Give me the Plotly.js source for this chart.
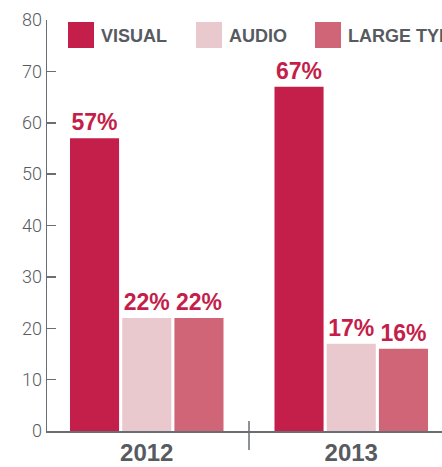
<!DOCTYPE html>
<html>
<head>
<meta charset="utf-8">
<script src="https://cdn.plot.ly/plotly-3.0.1.min.js"></script>
<style>
  html, body { margin: 0; padding: 0; background: #fff; }
  #chart { width: 442px; height: 467px; }
</style>
</head>
<body>
<div id="chart"></div>
<script>
const years = ['2012', '2013'];
const seriesNames = ['VISUAL', 'AUDIO', 'LARGE TYPE'];
const visual = [57, 67];
const audio = [22, 17];
const largeType = [22, 16];
const colors = ['#c41e4a', '#e9c9ce', '#cf6576'];

const W = 442, H = 467;
const ms = { l: 47, r: 0, t: 20, b: 36 }; // margins
const plotW = W - ms.l - ms.r;
const plotH = H - ms.t - ms.b;
const catW = 204.5; // px per category, right side is cut off
const xStart = -0.5 + 2.5 / catW; // nudge bars left a bit

const boldFont = '"Liberation Sans", Arial, sans-serif';
const gray = '#575b5f';

// pixel -> paper helpers
function px(x) { return (x - ms.l) / plotW; }
function py(y) { return (H - ms.b - y) / plotH; }

const values = [visual, audio, largeType];
let traces = values.map((v, i) => ({
    type: 'bar',
    name: seriesNames[i],
    x: years,
    y: v,
    marker: { color: colors[i] },
    texttemplate: '%{y}%',
    textposition: 'outside',
    constraintext: 'none',
    cliponaxis: false,
    textfont: { family: boldFont, size: 23, color: '#c41e4a', weight: 'bold' },
    hoverinfo: 'none'
}));

// hand made legend: big squares + labels
const legendBoxX = [68, 196, 315];
let shapes = [];
let annotations = [];
seriesNames.forEach((name, i) => {
    shapes.push({
        type: 'rect', xref: 'paper', yref: 'paper',
        x0: px(legendBoxX[i]), x1: px(legendBoxX[i] + 26),
        y0: py(48), y1: py(22),
        fillcolor: colors[i], line: { width: 0 }
    });
    annotations.push({
        xref: 'paper', yref: 'paper',
        x: px(legendBoxX[i] + 31), y: py(36),
        xanchor: 'left', yanchor: 'middle',
        text: name, showarrow: false,
        font: { family: boldFont, size: 18, color: gray, weight: 'bold' }
    });
});

// divider between the two years
shapes.push({
    type: 'line', xref: 'x', yref: 'paper',
    x0: 0.5, x1: 0.5, y0: py(450), y1: py(421),
    line: { color: '#6a6e72', width: 1.5 }
});

const layout = {
    width: W,
    height: H,
    margin: ms,
    paper_bgcolor: '#fff',
    plot_bgcolor: '#fff',
    showlegend: false,
    barmode: 'group',
    bargap: 0.234,
    bargroupgap: 0.06,
    xaxis: {
        type: 'category',
        range: [xStart, xStart + plotW / catW],
        showline: true,
        linecolor: '#6a6e72',
        linewidth: 1.5,
        ticks: '',
        showgrid: false,
        zeroline: false,
        tickfont: { family: boldFont, size: 24, color: gray, weight: 'bold' },
        fixedrange: true
    },
    yaxis: {
        range: [0, 80],
        dtick: 10,
        showline: true,
        linecolor: '#6a6e72',
        linewidth: 1.5,
        ticks: 'inside',
        ticklen: 9,
        tickwidth: 1.5,
        tickcolor: '#6a6e72',
        showgrid: false,
        zeroline: false,
        tickfont: { family: 'Roboto, sans-serif', size: 18, color: gray, weight: 300 },
        fixedrange: true
    },
    shapes: shapes,
    annotations: annotations,
    font: { family: 'Roboto, sans-serif' }
};

const config = { displayModeBar: false, staticPlot: true };

Plotly.newPlot('chart', traces, layout, config);
</script>
</body>
</html>
